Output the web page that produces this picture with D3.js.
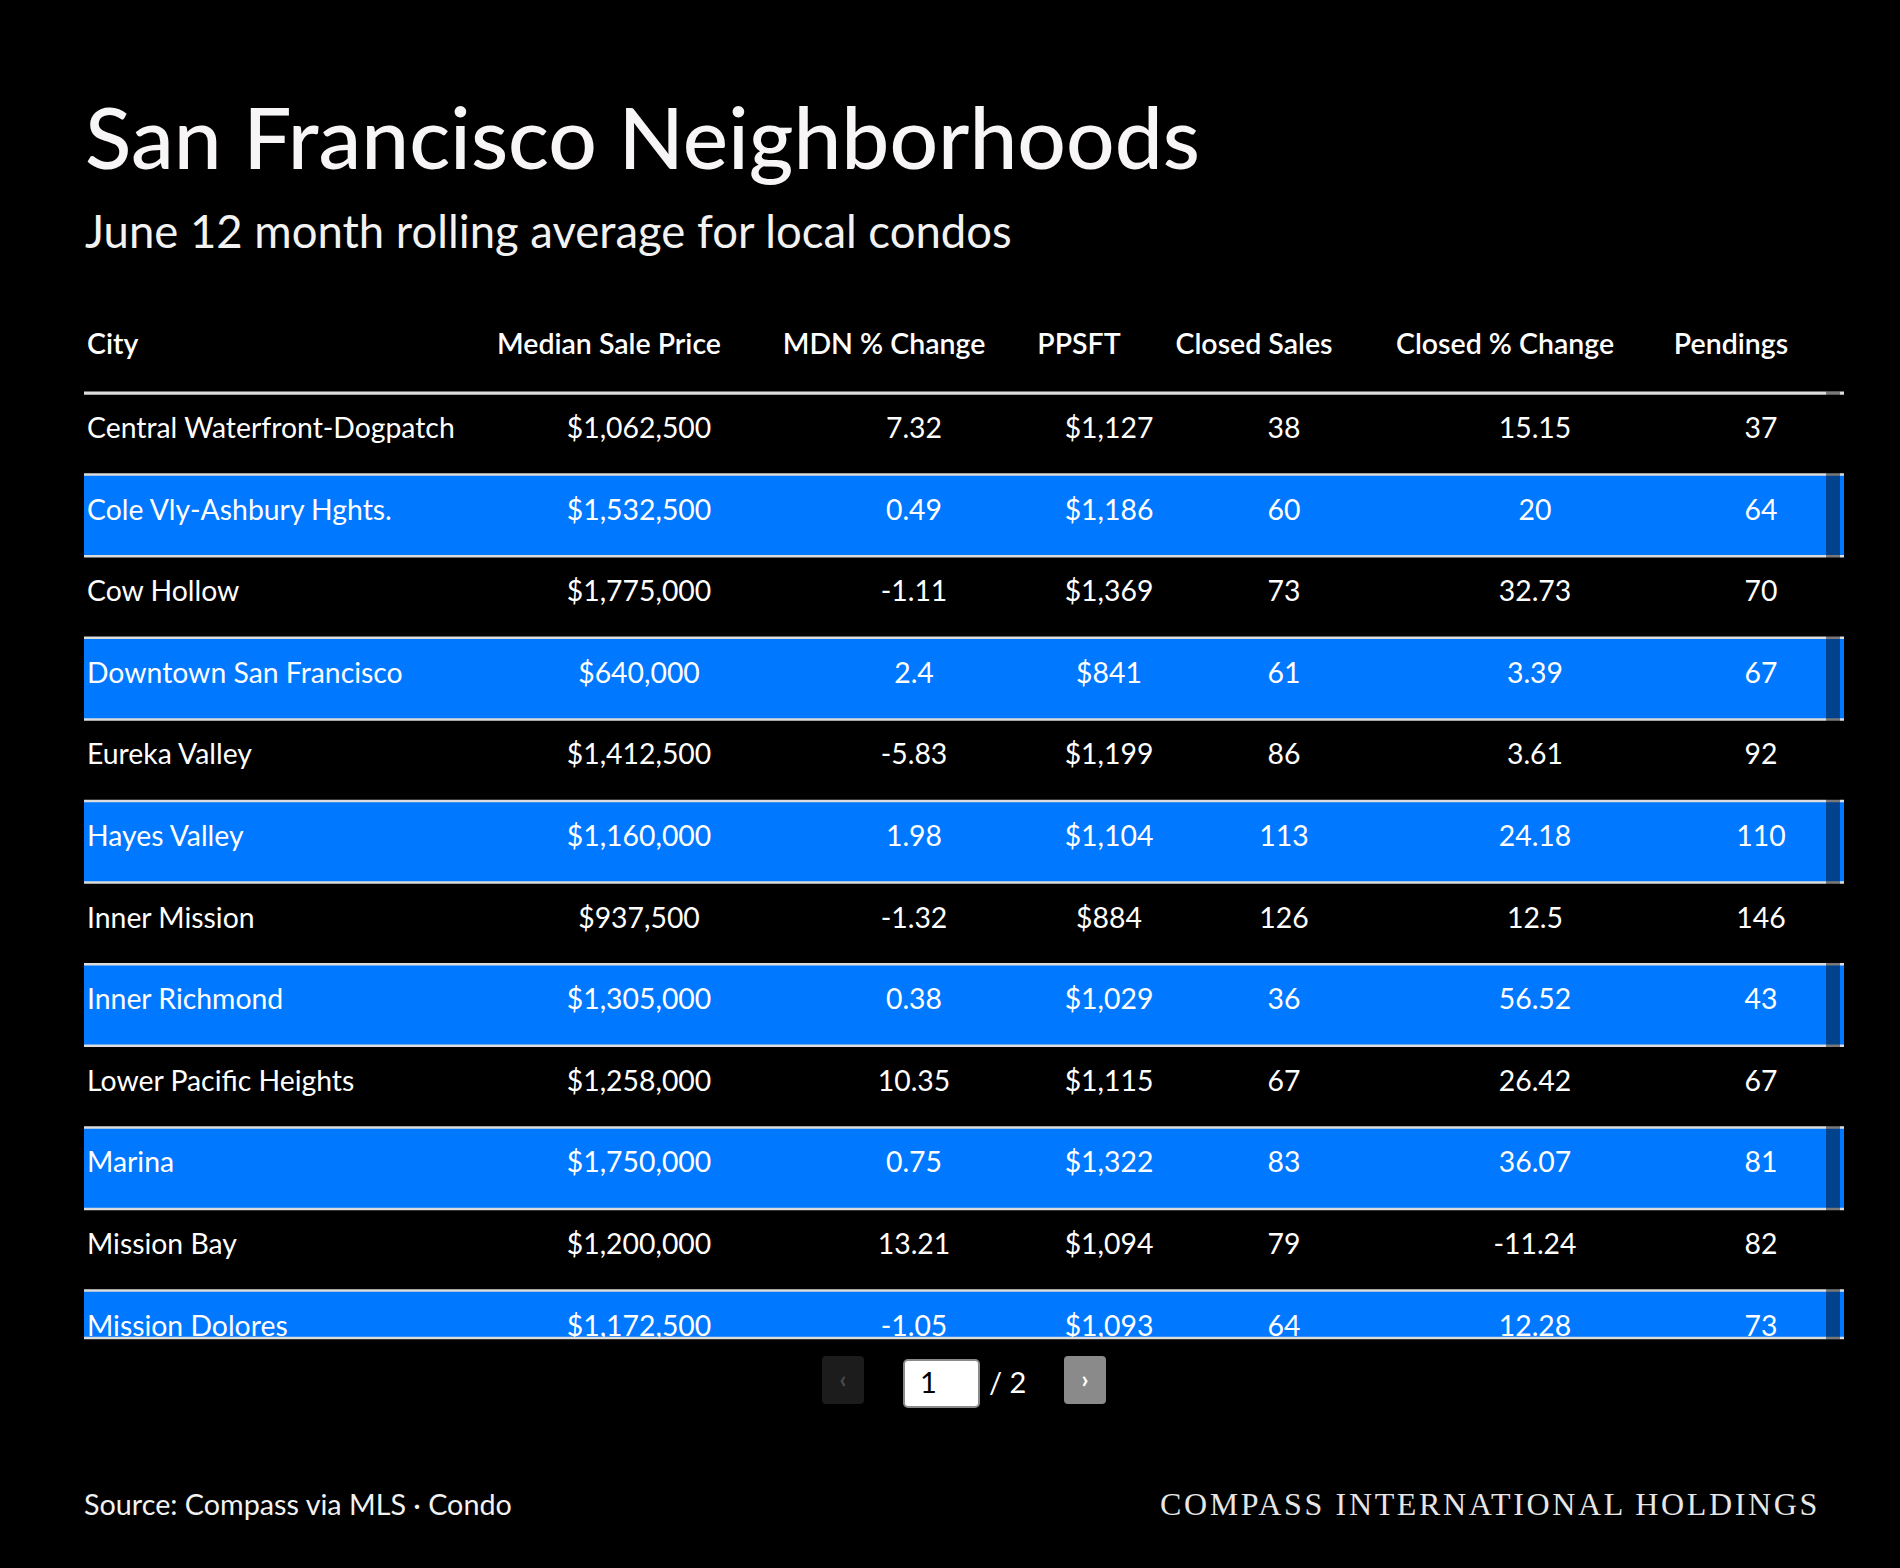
<!DOCTYPE html>
<html>
<head>
<meta charset="utf-8">
<script src="https://cdn.jsdelivr.net/npm/d3@7"></script>
<style>
  html, body { margin: 0; padding: 0; background: #000; }
  svg { display: block; }
</style>
</head>
<body>
<svg id="chart"></svg>
<script>
// table data (page 1 of 2)
const cities = ["Central Waterfront-Dogpatch", "Cole Vly-Ashbury Hghts.", "Cow Hollow", "Downtown San Francisco",
  "Eureka Valley", "Hayes Valley", "Inner Mission", "Inner Richmond", "Lower Pacific Heights", "Marina",
  "Mission Bay", "Mission Dolores"]
const medianPrice = [1062500, 1532500, 1775000, 640000, 1412500, 1160000, 937500, 1305000, 1258000, 1750000, 1200000, 1172500]
const mdnChange = [7.32, 0.49, -1.11, 2.4, -5.83, 1.98, -1.32, 0.38, 10.35, 0.75, 13.21, -1.05]
const ppsft = [1127, 1186, 1369, 841, 1199, 1104, 884, 1029, 1115, 1322, 1094, 1093]
const closedSales = [38, 60, 73, 61, 86, 113, 126, 36, 67, 83, 79, 64]
const closedChange = [15.15, 20, 32.73, 3.39, 3.61, 24.18, 12.5, 56.52, 26.42, 36.07, -11.24, 12.28]
const pendings = [37, 64, 70, 67, 92, 110, 146, 43, 67, 81, 82, 73]
const headers = ["City", "Median Sale Price", "MDN % Change", "PPSFT", "Closed Sales", "Closed % Change", "Pendings"]

const W = 1900, H = 1568
const sans = "Lato, 'Noto Sans', sans-serif"
const blue = "#0078ff"

const svg = d3.select('#chart').attr('width', W).attr('height', H)
svg.append('rect').attr('width', W).attr('height', H).attr('fill', '#000')

// scale a text's font size so it spans a target width
function fit(sel, target) {
  const s = parseFloat(sel.attr('font-size'))
  const w = sel.node().getComputedTextLength()
  const ns = s * target / w
  sel.attr('font-size', ns)
  return ns
}

fit(svg.append('text').attr('x', 85).attr('y', 169)
  .attr('font-family', sans).attr('font-weight', 500).attr('font-size', 85)
  .attr('fill', '#f7f5f5').text("San Francisco Neighborhoods"), 1115)

fit(svg.append('text').attr('x', 85).attr('y', 248)
  .attr('font-family', sans).attr('font-size', 40)
  .attr('fill', '#f2f2f2').text("June 12 month rolling average for local condos"), 927)

// columns
const tableLeft = 84, tableRight = 1844
const tableTop = 393, rowH = 81.6, viewBottom = 1338
const cols = d3.range(headers.length)
const valueX = d3.scaleOrdinal().domain(cols).range([87, 639, 914, 1109, 1284, 1535, 1761])
const headOff = 30

const rows = d3.scaleBand().domain(d3.range(cities.length))
  .range([tableTop, tableTop + rowH * cities.length])

const fmtPrice = d3.format("$,.0f")
const fmtNum = d3.format(",")
const fmtDec = (v) => String(v)
const tableRows = cities.map((c, i) => [c, fmtPrice(medianPrice[i]), fmtDec(mdnChange[i]),
  fmtPrice(ppsft[i]), fmtNum(closedSales[i]), fmtDec(closedChange[i]), fmtNum(pendings[i])])

// header row
const head = svg.append('g')
const headText = head.selectAll('text').data(headers).enter().append('text')
  .attr('x', (d, i) => i === 0 ? valueX(i) : valueX(i) - headOff)
  .attr('y', 354)
  .attr('text-anchor', (d, i) => i === 0 ? 'start' : 'middle')
  .attr('font-family', sans).attr('font-weight', 600).attr('font-size', 28)
  .attr('fill', '#fff')
  .text((d) => d)
const hs = fit(headText.filter((d, i) => i === 1), 224)
headText.attr('font-size', hs)

// body, clipped to the scroll viewport
svg.append('clipPath').attr('id', 'view')
  .append('rect').attr('x', tableLeft).attr('y', tableTop).attr('width', tableRight - tableLeft).attr('height', viewBottom - tableTop)

const body = svg.append('g').attr('clip-path', 'url(#view)')

body.selectAll('rect.row').data(tableRows).enter().append('rect')
  .attr('class', 'row')
  .attr('x', tableLeft).attr('width', tableRight - tableLeft)
  .attr('y', (d, i) => rows(i)).attr('height', rows.bandwidth())
  .attr('fill', (d, i) => i % 2 ? blue : '#000')

const rowG = body.selectAll('g.r').data(tableRows).enter().append('g')
  .attr('class', 'r')
  .attr('transform', (d, i) => 'translate(0,' + (rows(i) + 45) + ')')

const cells = rowG.selectAll('text').data((d) => d).enter().append('text')
  .attr('x', (d, i) => valueX(i))
  .attr('text-anchor', (d, i) => i === 0 ? 'start' : 'middle')
  .attr('font-family', sans).attr('font-size', 27)
  .attr('fill', '#fff')
  .text((d) => d)
const bs = fit(rowG.filter((d, i) => i === 0).selectAll('text').filter((d, i) => i === 0), 368)
cells.attr('font-size', bs)

// row separators
body.selectAll('line.sep').data(d3.range(cities.length + 1)).enter().append('line')
  .attr('x1', tableLeft).attr('x2', tableRight)
  .attr('y1', (d) => tableTop + d * rowH).attr('y2', (d) => tableTop + d * rowH)
  .attr('stroke', '#dcdcdc').attr('stroke-width', (d) => d === 0 ? 3 : 2.5)
svg.append('line').attr('x1', tableLeft).attr('x2', tableRight)
  .attr('y1', viewBottom).attr('y2', viewBottom)
  .attr('stroke', '#dcdcdc').attr('stroke-width', 2.5)
svg.append('line').attr('x1', tableLeft).attr('x2', tableRight)
  .attr('y1', tableTop).attr('y2', tableTop)
  .attr('stroke', '#dcdcdc').attr('stroke-width', 3)

// scrollbar overlay
svg.append('rect').attr('x', 1826).attr('y', tableTop - 1.5).attr('width', 14).attr('height', viewBottom - tableTop + 3)
  .attr('fill', '#000').attr('opacity', 0.45)

// pagination
const pag = svg.append('g').attr('font-family', sans)
pag.append('rect').attr('x', 822).attr('y', 1356).attr('width', 42).attr('height', 48).attr('rx', 4).attr('fill', '#1c1c1c')
pag.append('text').attr('x', 843).attr('y', 1388).attr('text-anchor', 'middle').attr('font-size', 24).attr('font-weight', 700)
  .attr('fill', '#4a4a4a').text("‹")
pag.append('rect').attr('x', 904).attr('y', 1360).attr('width', 75).attr('height', 47).attr('rx', 4)
  .attr('fill', '#fff').attr('stroke', '#8a8a8a').attr('stroke-width', 2)
pag.append('text').attr('x', 920).attr('y', 1393).attr('font-size', 29).attr('fill', '#000').text("1")
pag.append('text').attr('x', 989).attr('y', 1393).attr('font-size', 29).attr('fill', '#fff').text("/ 2")
pag.append('rect').attr('x', 1064).attr('y', 1356).attr('width', 42).attr('height', 48).attr('rx', 4).attr('fill', '#8a8a8a')
pag.append('text').attr('x', 1085).attr('y', 1388).attr('text-anchor', 'middle').attr('font-size', 24).attr('font-weight', 700)
  .attr('fill', '#fff').text("›")

// footer
fit(svg.append('text').attr('x', 84).attr('y', 1515)
  .attr('font-family', sans).attr('font-size', 28).attr('fill', '#f2f2f2')
  .text("Source: Compass via MLS · Condo"), 428)

const brand = svg.append('text').attr('x', 1820).attr('y', 1515).attr('text-anchor', 'end')
  .attr('font-family', "'Liberation Serif', 'DejaVu Serif', serif").attr('font-size', 32)
  .attr('fill', '#e6e6e6').text("COMPASS INTERNATIONAL HOLDINGS")
const bw = brand.node().getComputedTextLength()
const nChars = "COMPASS INTERNATIONAL HOLDINGS".length
brand.attr('letter-spacing', (660 - bw) / nChars)
</script>
</body>
</html>
